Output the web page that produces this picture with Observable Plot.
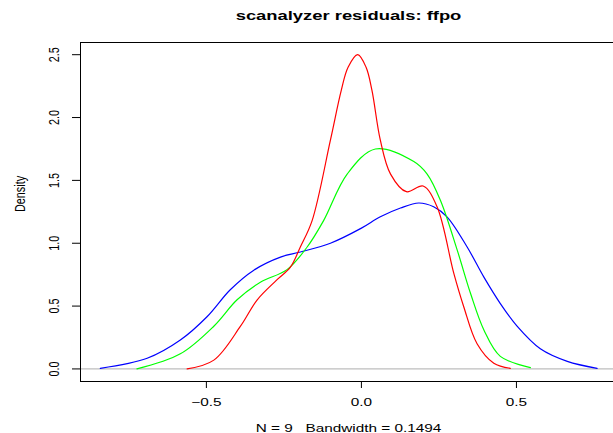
<!DOCTYPE html>
<html>
<head>
<meta charset="utf-8">
<script src="https://cdn.jsdelivr.net/npm/d3@7"></script>
<script src="https://cdn.jsdelivr.net/npm/@observablehq/plot@0.6"></script>
<style>
  html, body { margin: 0; padding: 0; background: #fff; }
</style>
</head>
<body>
<div id="chart"></div>
<script>
const titleText = "scanalyzer residuals: ffpo";
const subtitleText = "N = 9   Bandwidth = 0.1494";
const yLabelText = "Density";
const xTicks = [-0.5, 0, 0.5];
const yTicks = [0, 0.5, 1, 1.5, 2, 2.5];
const xDomain = [-0.906, 0.813];
const yDomain = [-0.1, 2.597];

const blueX = [-0.842, -0.691, -0.584, -0.498, -0.423, -0.347, -0.261, -0.197, -0.1, 0.0, 0.061, 0.126, 0.185, 0.233, 0.276, 0.341, 0.395, 0.448, 0.502, 0.577, 0.664, 0.76];
const blueY = [0.005, 0.085, 0.23, 0.415, 0.63, 0.786, 0.89, 0.93, 1.0, 1.12, 1.21, 1.28, 1.32, 1.29, 1.21, 0.97, 0.73, 0.52, 0.34, 0.16, 0.06, 0.005];

const greenX = [-0.724, -0.584, -0.476, -0.401, -0.326, -0.24, -0.175, -0.122, -0.046, 0.045, 0.169, 0.212, 0.255, 0.309, 0.352, 0.395, 0.448, 0.545];
const greenY = [0.0, 0.12, 0.34, 0.55, 0.69, 0.79, 0.97, 1.18, 1.55, 1.75, 1.65, 1.55, 1.34, 0.945, 0.6, 0.31, 0.1, 0.01];

const redX = [-0.562, -0.476, -0.39, -0.336, -0.272, -0.229, -0.197, -0.159, -0.1, -0.065, -0.043, -0.012, 0.015, 0.034, 0.061, 0.094, 0.145, 0.199, 0.244, 0.298, 0.33, 0.373, 0.427, 0.48];
const redY = [0.0, 0.07, 0.34, 0.55, 0.71, 0.81, 0.97, 1.18, 1.82, 2.216, 2.40, 2.50, 2.40, 2.216, 1.82, 1.55, 1.41, 1.455, 1.29, 0.76, 0.495, 0.2, 0.045, 0.005];

const fmt = d3.format(".1f");

const chart = Plot.plot({
  width: 613,
  height: 433,
  marginLeft: 80,
  marginRight: 0,
  marginTop: 42,
  marginBottom: 52,
  style: {fontFamily: "'Liberation Sans', Arial, sans-serif", fontSize: "12px", background: "white", color: "black"},
  x: {domain: xDomain},
  y: {domain: yDomain},
  marks: [
    Plot.ruleY([0], {stroke: "#BEBEBE", strokeWidth: 1.2}),
    Plot.line(blueY, {x: blueX, y: blueY, stroke: "#0000FF", strokeWidth: 1.2, curve: "catmull-rom"}),
    Plot.line(greenY, {x: greenX, y: greenY, stroke: "#00FF00", strokeWidth: 1.2, curve: "catmull-rom"}),
    Plot.line(redY, {x: redX, y: redY, stroke: "#FF0000", strokeWidth: 1.2, curve: "catmull-rom"}),
    Plot.ruleY([yDomain[0], yDomain[1]], {stroke: "black", strokeWidth: 1}),
    Plot.ruleX([xDomain[0]], {stroke: "black", strokeWidth: 1}),
    Plot.axisX(xTicks, {anchor: "bottom", tickSize: 7, tickPadding: 10.3, tickFormat: fmt, fontSize: 12, label: null}),
    Plot.axisY(yTicks, {anchor: "left", tickSize: 8, tickPadding: 14, tickRotate: -90, tickFormat: fmt, fontSize: 12, label: null}),
    Plot.text([yLabelText], {text: d => d, frameAnchor: "left", dx: -56, rotate: -90, lineAnchor: "bottom", fontSize: 12}),
    Plot.text([titleText], {text: d => d, frameAnchor: "top", dy: -23, dx: 1.5, lineAnchor: "bottom", fontWeight: "bold", fontSize: 14.4}),
    Plot.text([subtitleText], {text: d => d, frameAnchor: "bottom", dy: 50, dx: 1.5, lineAnchor: "bottom", fontSize: 12})
  ]
});

// The reference's text is stretched horizontally and squashed vertically.
chart.querySelectorAll("text").forEach(t => {
  const tr = t.getAttribute("transform") || "";
  const rot = /rotate/.test(tr);
  t.setAttribute("transform", tr + (rot ? " scale(0.902,1.277)" : " scale(1.277,0.902)"));
});

document.getElementById("chart").appendChild(chart);
</script>
</body>
</html>
